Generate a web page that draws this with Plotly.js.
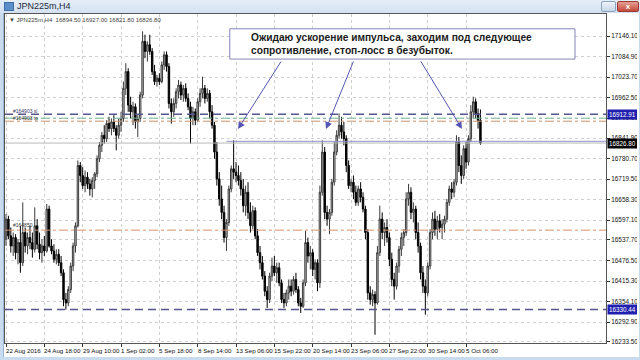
<!DOCTYPE html>
<html><head><meta charset="utf-8">
<script src="https://cdn.plot.ly/plotly-3.0.1.min.js"></script>
<style>
html,body{margin:0;padding:0;width:640px;height:360px;overflow:hidden;background:#c9dbef;font-family:"Liberation Sans",Arial,sans-serif;}
#titlebar{position:absolute;left:0;top:0;width:640px;height:13px;background:linear-gradient(#e6eef8,#d3e1f1);}
#ttl{position:absolute;left:17px;top:1px;font-size:9px;color:#1e2a3a;}
#icon{position:absolute;left:4px;top:2px;width:8px;height:7px;background:#5b8fc9;border:1px solid #3d6ea5;}
#restore{position:absolute;left:601px;top:1px;width:13px;height:9px;background:linear-gradient(#eef3f9,#c8d6e8);border:1px solid #8aa2c0;border-radius:2px;}
#close{position:absolute;left:617px;top:1px;width:20px;height:9px;background:linear-gradient(#e6a094,#c54a3a);border:1px solid #9a3a30;border-radius:2px;color:#fff;font-size:8px;line-height:9px;text-align:center;font-weight:bold;}
#frame{position:absolute;left:3px;top:13px;width:635px;height:344px;background:#fff;border-left:1px solid #9db5d3;}
#chart{position:absolute;left:4px;top:13px;width:633px;height:343px;}
</style></head>
<body>
<div id="titlebar"><div id="icon"></div><div id="ttl">JPN225m,H4</div><div id="restore"></div><div id="close">x</div></div>
<div id="frame"></div>
<div id="chart"></div>
<script>
// ---- data (H4 bars, index 0 = 22 Aug 2016 02:00) ----
const opens = [16540,16600,16550,16520,16545,16500,16530,16470,16560,16520,16545,16530,16510,16580,16525,16500,16520,16505,16630,16520,
16505,16480,16495,16470,16440,16360,16350,16390,16460,16520,16580,16760,16730,16700,16725,16705,16690,16715,16735,16780,
16820,16850,16840,16885,16870,16890,16870,16850,16880,16900,16990,17040,16940,16920,16935,16890,16900,16970,17130,17100,
17120,17100,17040,17010,17020,17010,17060,17090,17055,16945,16920,16945,16980,17000,16970,16990,16960,16935,16900,16920,
16895,16950,16975,16990,16960,16975,16920,16880,16800,16720,16660,16620,16545,16590,16690,16750,16740,16730,16715,16690,
16640,16680,16620,16580,16625,16550,16500,16470,16430,16385,16360,16430,16460,16440,16455,16410,16360,16350,16380,16400,
16385,16420,16390,16350,16340,16410,16530,16490,16500,16450,16470,16410,16680,16800,16620,16600,16620,16710,16800,16850,
16880,16860,16840,16760,16700,16710,16680,16650,16690,16665,16630,16560,16380,16360,16375,16350,16500,16600,16560,16575,
16545,16480,16420,16400,16460,16510,16545,16560,16660,16680,16620,16630,16560,16520,16440,16400,16380,16460,16560,16600,
16570,16595,16575,16585,16600,16650,16690,16680,16710,16830,16760,16730,16810,16770,16840,16920,16950,16915,16894.5];
const highs = [16615,16610,16575,16560,16555,16540,16580,16650,16575,16560,16580,16560,16635,16600,16560,16540,16550,16645,16640,16540,
16525,16510,16510,16490,16450,16380,16400,16470,16530,16590,16775,16770,16755,16745,16740,16720,16725,16740,16790,16830,
16860,16880,16895,16905,16900,16910,16880,16900,16920,17010,17065,17050,16965,16950,16945,16910,16980,17160,17150,17130,
17150,17110,17060,17030,17035,17070,17100,17100,17065,16960,16960,16990,17015,17010,17000,17005,16975,16950,16935,16930,
16960,16990,17025,17000,16990,16985,16940,16890,16830,16740,16700,16640,16600,16700,16760,16835,16770,16760,16740,16720,
16700,16710,16650,16640,16635,16570,16520,16490,16445,16400,16440,16485,16490,16470,16470,16420,16380,16390,16420,16420,
16430,16440,16400,16365,16420,16565,16545,16520,16510,16480,16480,16700,16835,16815,16640,16630,16720,16830,16865,16915,
16905,16890,16850,16775,16720,16730,16700,16700,16710,16680,16640,16570,16400,16390,16385,16520,16640,16620,16590,16600,
16560,16500,16440,16470,16520,16560,16570,16680,16705,16695,16650,16640,16590,16530,16460,16420,16470,16570,16620,16625,
16610,16615,16600,16610,16660,16700,16710,16720,16850,16845,16790,16820,16830,16850,16940,16965,16960,16930,16927];
const lows = [16520,16540,16500,16490,16480,16465,16440,16460,16500,16495,16510,16485,16500,16510,16480,16470,16490,16500,16515,16495,
16470,16465,16460,16430,16340,16330,16340,16380,16445,16500,16575,16710,16690,16680,16690,16670,16665,16690,16725,16770,
16800,16825,16830,16860,16850,16860,16805,16840,16860,16890,16970,16920,16900,16880,16870,16845,16890,16960,17080,17070,
17090,17030,17000,16995,17000,17005,17045,17040,16930,16885,16905,16930,16960,16955,16950,16950,16925,16825,16880,16880,
16890,16935,16960,16945,16950,16900,16870,16780,16700,16640,16600,16530,16505,16580,16680,16720,16710,16700,16670,16620,
16610,16600,16560,16570,16540,16490,16450,16420,16370,16335,16350,16415,16430,16410,16400,16350,16335,16340,16360,16370,
16375,16380,16340,16320,16335,16400,16470,16450,16430,16420,16385,16395,16670,16600,16580,16555,16610,16700,16790,16840,
16840,16820,16740,16690,16680,16660,16640,16640,16650,16620,16540,16360,16345,16340,16255,16345,16490,16540,16520,16530,
16460,16400,16360,16390,16440,16490,16520,16550,16640,16600,16590,16540,16500,16420,16380,16315,16370,16450,16540,16550,
16540,16560,16540,16560,16590,16640,16660,16665,16700,16740,16705,16720,16750,16760,16830,16900,16900,16870,16821.8];
const closes = [16600,16550,16520,16545,16500,16530,16470,16560,16520,16545,16530,16510,16580,16525,16500,16520,16505,16630,16520,16505,
16480,16495,16470,16440,16360,16350,16390,16460,16520,16580,16760,16730,16700,16725,16705,16690,16715,16735,16780,16820,
16850,16840,16885,16870,16890,16870,16850,16880,16900,16990,17040,16940,16920,16935,16890,16900,16970,17130,17100,17120,
17100,17040,17010,17020,17010,17060,17090,17055,16945,16920,16945,16980,17000,16970,16990,16960,16935,16900,16920,16895,
16950,16975,16990,16960,16975,16920,16880,16800,16720,16660,16620,16545,16590,16690,16750,16740,16730,16715,16690,16640,
16680,16620,16580,16625,16550,16500,16470,16430,16385,16360,16430,16460,16440,16455,16410,16360,16350,16380,16400,16385,
16420,16390,16350,16340,16410,16530,16490,16500,16450,16470,16410,16680,16800,16620,16600,16620,16710,16800,16850,16880,
16860,16840,16760,16700,16710,16680,16650,16690,16665,16630,16560,16380,16360,16375,16350,16500,16600,16560,16575,16545,
16480,16420,16400,16460,16510,16545,16560,16660,16680,16620,16630,16560,16520,16440,16400,16380,16460,16560,16600,16570,
16595,16575,16585,16600,16650,16690,16680,16710,16830,16760,16730,16810,16770,16840,16920,16950,16915,16894.5,16826.8];

const xTickBars = [0,16,32,48,64,80,96,112,128,144,160,176,192];
const xTickLabels = ["22 Aug 2016","24 Aug 18:00","29 Aug 10:00","1 Sep 02:00","5 Sep 18:00","8 Sep 14:00","13 Sep 06:00",
  "15 Sep 22:00","20 Sep 14:00","23 Sep 06:00","27 Sep 22:00","30 Sep 14:00","5 Oct 06:00"];
const yTickValues = [17146.10,17084.90,17023.70,16962.50,16901.30,16841.90,16780.70,16719.50,16658.30,16597.10,16537.70,16476.50,16415.30,16354.10,16292.90,16233.50];
const yTickLabels = ["17146.10","17084.90","17023.70","16962.50","16901.30","16841.90","16780.70","16719.50","16658.30","16597.10","16537.70","16476.50","16415.30","16354.10","16292.90","16233.50"];

// horizontal levels: stop/target lines, bid, resistance
const orderLevels = [16912.91, 16330.44];
const tpLevel = 16901;
const slLevel = 16892;
const midLevel = 16567;
const bidPrice = 16826.80;
const resistance = 16832;
const resistanceStartBar = 92;
const headerText = "\u25BC JPN225m,H4  16894.50 16927.00 16821.80 16826.80";
const noteText = "Ожидаю ускорение импульса, заходим под следующее<br>сопротивление, стоп-лосс в безубыток.";

const idx = closes.map((_, i) => i);

const trace = {
  type: 'candlestick', x: idx, open: opens, high: highs, low: lows, close: closes,
  increasing: {line: {color: '#3a3a3a', width: 1}, fillcolor: '#cfcfcf'},
  decreasing: {line: {color: '#000000', width: 1}, fillcolor: '#000000'},
  whiskerwidth: 0, hoverinfo: 'skip', showlegend: false
};

const XR = [-0.42, 250.4];
const shapes = [
  {type:'line', xref:'paper', x0:0, x1:1, yref:'y', y0:bidPrice, y1:bidPrice, line:{color:'#b8b8b8', width:1}},
  {type:'line', xref:'x', x0:resistanceStartBar, x1:XR[1], yref:'y', y0:resistance, y1:resistance, line:{color:'#9090cc', width:1}},
  {type:'line', xref:'paper', x0:0, x1:1, yref:'y', y0:tpLevel, y1:tpLevel, line:{color:'#78b894', width:1, dash:'dashdot'}},
  {type:'line', xref:'paper', x0:0, x1:1, yref:'y', y0:slLevel, y1:slLevel, line:{color:'#c9936a', width:1, dash:'dashdot'}},
  {type:'line', xref:'paper', x0:0, x1:1, yref:'y', y0:midLevel, y1:midLevel, line:{color:'#d49470', width:1, dash:'dashdot'}},
  {type:'rect', xref:'paper', yref:'paper', x0:0.374, x1:0.9484, y0:0.863, y1:0.955, line:{color:'#8585bb', width:1}, fillcolor:'#ffffff', layer:'above'}
];
orderLevels.forEach(v => shapes.push({type:'line', xref:'paper', x0:0, x1:1, yref:'y', y0:v, y1:v, line:{color:'#55558f', width:1.6, dash:'8px,5px'}}));

const annotations = [];
xTickBars.forEach((b, k) => annotations.push({
  x: b, xref:'x', y: 0, yref:'paper', yanchor:'top', xanchor:'left', xshift:-2, yshift:-2,
  text: xTickLabels[k], showarrow:false, font:{size:6.2, color:'#111'}
}));
annotations.push({x:0.004, xref:'paper', y:0.982, yref:'paper', xanchor:'left', yanchor:'middle', text:headerText, showarrow:false, font:{size:6, color:'#444'}});
annotations.push({x:0.406, xref:'paper', y:0.909, yref:'paper', xanchor:'left', yanchor:'middle', align:'left', text:'<b>'+noteText+'</b>', showarrow:false, font:{size:10.2, color:'#1a1a1a', family:'Liberation Sans, Arial, sans-serif'}});
// arrows from the note to the resistance line
[[0.3877, 44], [0.5341, 28], [0.7604, -42]].forEach(a => annotations.push({
  x:a[0], xref:'paper', y:0.6505, yref:'paper', ax:a[1], ay:-69, text:'', showarrow:true,
  arrowhead:2, arrowsize:1.4, arrowwidth:1, arrowcolor:'#5656b4', standoff:0
}));
// price tags on the right axis
[[orderLevels[0], '#1f1fb0'], [bidPrice, '#000000'], [orderLevels[1], '#1f1fb0']].forEach(p => annotations.push({
  x:1, xref:'paper', y:p[0], yref:'y', xanchor:'left', yanchor:'middle', xshift:1, text:p[0].toFixed(2), showarrow:false,
  bgcolor:p[1], borderpad:1, font:{size:6.3, color:'#ffffff'}
}));
// order labels on the left
annotations.push({x:0.01, xref:'paper', y:orderLevels[0], yref:'y', xanchor:'left', yanchor:'bottom', yshift:-2, text:'#164903 sl', showarrow:false, font:{size:5, color:'#333366'}});
annotations.push({x:0.01, xref:'paper', y:tpLevel, yref:'y', xanchor:'left', yanchor:'middle', text:'#164903 tp', showarrow:false, font:{size:5, color:'#333333'}});
annotations.push({x:0.01, xref:'paper', y:midLevel, yref:'y', xanchor:'left', yanchor:'bottom', text:'#164850', showarrow:false, font:{size:5, color:'#333333'}});

const layout = {
  width:633, height:343, margin:{l:1, r:31, t:1, b:13},
  paper_bgcolor:'#ffffff', plot_bgcolor:'#ffffff',
  font:{family:'Liberation Sans, Arial, sans-serif'},
  showlegend:false, dragmode:false, boxgap:0.15,
  xaxis:{range:XR, type:'linear', rangeslider:{visible:false}, tickvals:xTickBars, showticklabels:false,
    ticks:'outside', ticklen:3, tickcolor:'#333', showgrid:true, gridcolor:'#cfcfcf', griddash:'dot', gridwidth:1,
    zeroline:false, showline:true, linecolor:'#555', linewidth:1, mirror:true, fixedrange:true},
  yaxis:{range:[16230.5, 17211.7], side:'right', tickvals:yTickValues, ticktext:yTickLabels,
    ticks:'outside', ticklen:3, tickcolor:'#333', tickfont:{size:6.4, color:'#111'},
    showgrid:true, gridcolor:'#cfcfcf', griddash:'dot', gridwidth:1, zeroline:false,
    showline:true, linecolor:'#555', linewidth:1, mirror:true, fixedrange:true},
  shapes:shapes, annotations:annotations
};
Plotly.newPlot('chart', [trace], layout, {displayModeBar:false, staticPlot:true});
</script>
</body></html>
